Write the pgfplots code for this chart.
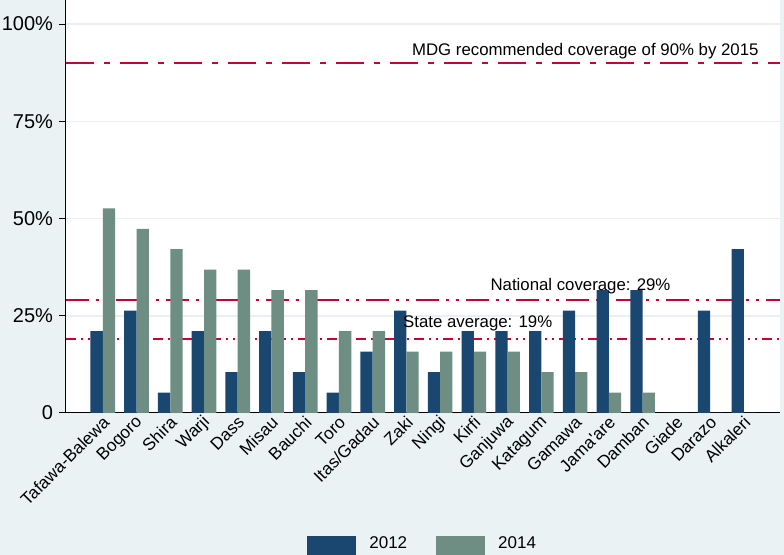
\documentclass[border=0pt]{standalone}
\usepackage{pgfplots}
\pgfplotsset{compat=1.18}
\usepackage{fontspec}
\setmainfont{Liberation Sans}
\definecolor{bgc}{HTML}{EAF2F3}
\definecolor{gridc}{HTML}{EAF0F2}
\definecolor{navy}{HTML}{1A476F}
\definecolor{sage}{HTML}{6E8E84}
\definecolor{refred}{HTML}{C10534}

% share of facilities, 2012 and 2014 (multiples of 1/19)
\pgfplotstableread{
x y12 y14
0 21.05 52.63
1 26.32 47.37
2 5.26 42.11
3 21.05 36.84
4 10.53 36.84
5 21.05 31.58
6 10.53 31.58
7 5.26 21.05
8 15.79 21.05
9 26.32 15.79
10 10.53 15.79
11 21.05 15.79
12 21.05 15.79
13 21.05 10.53
14 26.32 10.53
15 31.58 5.26
16 31.58 5.26
17 0 0
18 26.32 0
19 42.11 0
}\lgadata

\begin{document}
\begin{tikzpicture}
\fill[bgc] (-33pt,-71pt) rectangle (359pt,206.5pt);
\begin{axis}[
  at={(0,0)}, anchor=south west,
  scale only axis, width=357pt, height=206.5pt,
  xmin=-1.09, xmax=20.07, ymin=0, ymax=106.2,
  axis x line*=bottom, axis y line*=left,
  axis line style={black, line width=0.5pt},
  axis background/.style={fill=white},
  ytick={0,25,50,75,100},
  yticklabels={0,25\%,50\%,75\%,100\%},
  ymajorgrids, grid style={gridc, line width=0.8pt},
  tick align=outside, major tick length=3.5pt,
  ytick style={black, line width=0.5pt},
  yticklabel style={font=\fontsize{10pt}{12pt}\selectfont, xshift=0.5pt},
  xtick={0,...,19},
  xticklabels={Tafawa-Balewa,Bogoro,Shira,Warji,Dass,Misau,Bauchi,Toro,Itas/Gadau,Zaki,Ningi,Kirfi,Ganjuwa,Katagum,Gamawa,Jama\textquotesingle are,Damban,Giade,Darazo,Alkaleri},
  xtick style={draw=none},
  xticklabel style={font=\fontsize{8.6pt}{10pt}\selectfont, rotate=45, anchor=east, inner sep=0pt, xshift=1.5pt, yshift=-1pt},
  bar width=0.364,
  legend columns=2,
  legend style={at={(axis description cs:0.3375,-0.3196)}, anchor=west,
    draw=none, fill=none, inner sep=0pt, font=\fontsize{8.5pt}{10pt}\selectfont,
    /tikz/every even column/.append style={column sep=12.5pt}},
  legend image code/.code={\fill[#1] (0pt,-7pt) rectangle (24.5pt,4pt); \path (29pt,0pt);},
]
\addplot[refred, line width=1pt, dash pattern=on 14pt off 5pt on 3pt off 5pt, forget plot]
  coordinates {(-1.09,90) (20.07,90)};
\addplot[refred, line width=1pt, dash pattern=on 11.5pt off 3.5pt on 1.5pt off 3.5pt on 1.5pt off 3.5pt, forget plot]
  coordinates {(-1.09,29) (20.07,29)};
\addplot[refred, line width=1pt, dash pattern=on 5pt off 2.5pt on 1pt off 2.5pt on 1pt off 2.5pt, forget plot]
  coordinates {(-1.09,19) (20.07,19)};
\addplot[ybar, bar shift=-0.182, fill=navy, draw=none] table[x=x, y=y12] {\lgadata};
\addlegendentry{2012}
\addplot[ybar, bar shift=0.182, fill=sage, draw=none] table[x=x, y=y14] {\lgadata};
\addlegendentry{2014}
\begin{scope}[font=\fontsize{8.4pt}{10pt}\selectfont]
\node[anchor=west, inner sep=0pt] at (axis cs:9.155,93.1) {MDG recommended coverage of 90\% by 2015};
\node[anchor=west, inner sep=0pt] at (axis cs:11.48,32.7) {National coverage: 29\%};
\node[anchor=west, inner sep=0pt] at (axis cs:8.89,23.06) {State average: 19\%};
\end{scope}
\end{axis}
\pgfresetboundingbox
\path (-33pt,-71pt) rectangle (359pt,206.5pt);
\end{tikzpicture}
\end{document}
